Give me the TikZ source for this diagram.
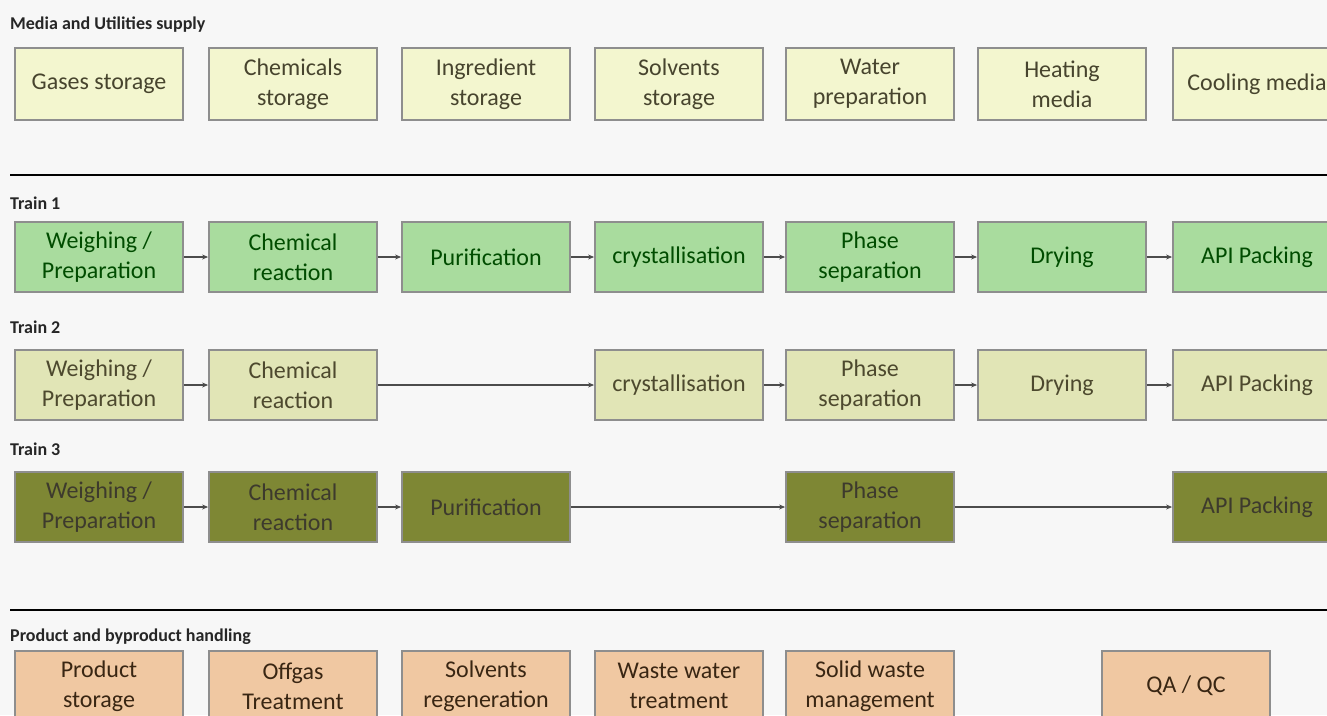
\documentclass[tikz,border=0pt]{standalone}
\usepackage{fontspec}
\setmainfont{Carlito}
\usetikzlibrary{arrows.meta}
\definecolor{bg}{HTML}{F7F7F7}
\definecolor{mediafill}{HTML}{F3F6CF}
\definecolor{tonefill}{HTML}{A9DC9E}
\definecolor{ttwofill}{HTML}{E1E5B6}
\definecolor{tthreefill}{HTML}{7E8734}
\definecolor{prodfill}{HTML}{F0C8A2}
\definecolor{boxline}{HTML}{8E8E8E}
\tikzset{
  x=1pt, y=-1pt,
  box/.style={draw=boxline, line width=1.8pt, minimum width=168pt, minimum height=70pt,
    align=center, font=\fontsize{24}{30}\selectfont, inner sep=2pt},
  media/.style={box, fill=mediafill, text=black!65!olive, minimum height=72pt},
  tone/.style={box, fill=tonefill, text=black!70!green},
  ttwo/.style={box, fill=ttwofill, text=black!60!olive},
  tthree/.style={box, fill=tthreefill, text=black!75!olive},
  prod/.style={box, fill=prodfill, text=black!70!brown},
  sectitle/.style={anchor=west, font=\fontsize{18}{20}\selectfont\bfseries, text=black!85, inner sep=0pt},
  conn/.style={draw=black!70, line width=1.5pt, -{Stealth[length=6pt,width=5pt]}},
  rule/.style={line width=2.8pt, black}
}
\begin{document}
\begin{tikzpicture}
\useasboundingbox (0,0) rectangle (1327,715);
\fill[bg] (0,0) rectangle (1327,715);
\clip (0,0) rectangle (1327,715);

% Media and utilities
\node[sectitle] (tm) at (10,25) {Media and Utilities supply};
\node[media] (m1) at (99,84) {Gases storage};
\node[media] (m2) at (293,84) {Chemicals\\storage};
\node[media] (m3) at (486,84) {Ingredient\\storage};
\node[media] (m4) at (679,84) {Solvents\\storage};
\node[media] (m5) at (870,84) {Water\\preparation};
\node[media] (m6) at (1062,84) {Heating\\media};
\node[media] (m7) at (1257,84) {Cooling media};

\coordinate (r1a) at (10,175);
\coordinate (r1b) at (1327,175);
\draw[rule] (r1a) -- (r1b);

% Train 1
\node[sectitle] (t1) at (10,203) {Train 1};
\node[tone] (a1) at (99,257) {Weighing /\\Preparation};
\node[tone] (a2) at (293,257) {Chemical\\reaction};
\node[tone] (a3) at (486,257) {Purification};
\node[tone] (a4) at (679,257) {crystallisation};
\node[tone] (a5) at (870,257) {Phase\\separation};
\node[tone] (a6) at (1062,257) {Drying};
\node[tone] (a7) at (1257,257) {API Packing};
\draw[conn] (a1) -- (a2);
\draw[conn] (a2) -- (a3);
\draw[conn] (a3) -- (a4);
\draw[conn] (a4) -- (a5);
\draw[conn] (a5) -- (a6);
\draw[conn] (a6) -- (a7);

% Train 2
\node[sectitle] (t2) at (10,327) {Train 2};
\node[ttwo] (b1) at (99,385) {Weighing /\\Preparation};
\node[ttwo] (b2) at (293,385) {Chemical\\reaction};
\node[ttwo] (b4) at (679,385) {crystallisation};
\node[ttwo] (b5) at (870,385) {Phase\\separation};
\node[ttwo] (b6) at (1062,385) {Drying};
\node[ttwo] (b7) at (1257,385) {API Packing};
\draw[conn] (b1) -- (b2);
\draw[conn] (b2) -- (b4);
\draw[conn] (b4) -- (b5);
\draw[conn] (b5) -- (b6);
\draw[conn] (b6) -- (b7);

% Train 3
\node[sectitle] (t3) at (10,449) {Train 3};
\node[tthree] (c1) at (99,507) {Weighing /\\Preparation};
\node[tthree] (c2) at (293,507) {Chemical\\reaction};
\node[tthree] (c3) at (486,507) {Purification};
\node[tthree] (c5) at (870,507) {Phase\\separation};
\node[tthree] (c7) at (1257,507) {API Packing};
\draw[conn] (c1) -- (c2);
\draw[conn] (c2) -- (c3);
\draw[conn] (c3) -- (c5);
\draw[conn] (c5) -- (c7);

\coordinate (r2a) at (10,610);
\coordinate (r2b) at (1327,610);
\draw[rule] (r2a) -- (r2b);

% Product and byproduct handling
\node[sectitle] (tp) at (10,637) {Product and byproduct handling};
\node[prod] (p1) at (99,686) {Product\\storage};
\node[prod] (p2) at (293,686) {Offgas\\Treatment};
\node[prod] (p3) at (486,686) {Solvents\\regeneration};
\node[prod] (p4) at (679,686) {Waste water\\treatment};
\node[prod] (p5) at (870,686) {Solid waste\\management};
\node[prod] (p6) at (1186,686) {QA / QC};
\end{tikzpicture}
\end{document}
